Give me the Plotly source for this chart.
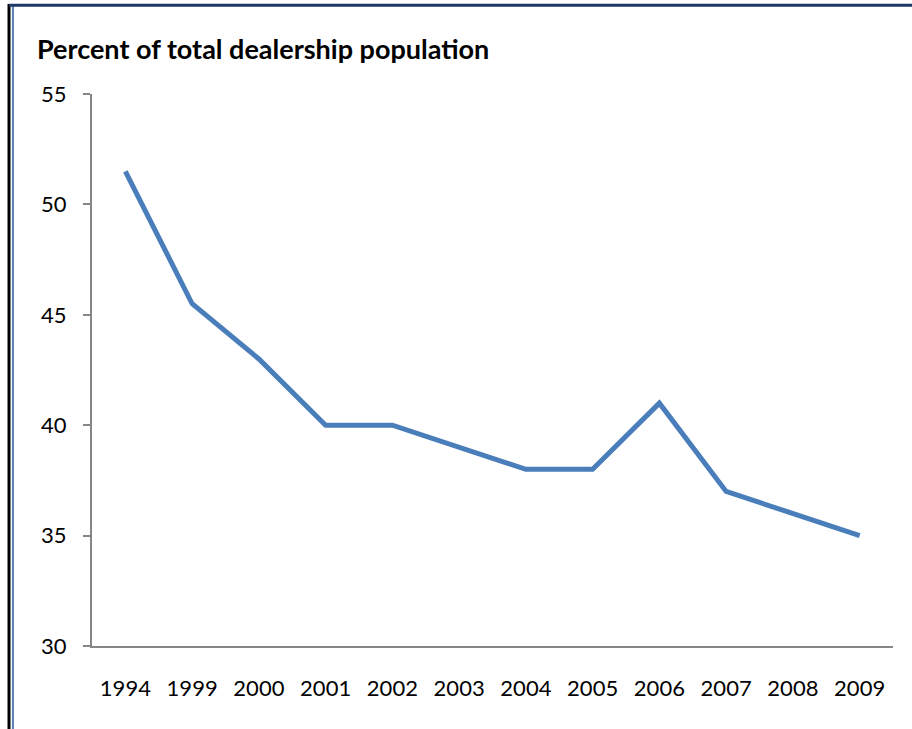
import plotly.graph_objects as go

years = ["1994", "1999", "2000", "2001", "2002", "2003", "2004", "2005", "2006", "2007", "2008", "2009"]
percent = [51.5, 45.5, 43, 40, 40, 39, 38, 38, 41, 37, 36, 35]
y_ticks = [30, 35, 40, 45, 50, 55]

fig = go.Figure()
fig.add_trace(go.Scatter(
    x=years, y=percent, mode="lines",
    line=dict(color="#4A7EBB", width=5),
    hoverinfo="skip",
))

font_family = "Lato, 'Open Sans', sans-serif"

fig.update_layout(
    width=912, height=729,
    margin=dict(l=92, r=19, t=94, b=83),
    paper_bgcolor="white", plot_bgcolor="white",
    showlegend=False,
    font=dict(family=font_family, size=22, color="black"),
    xaxis=dict(
        type="category", range=[-0.5, 11.5],
        showline=True, linecolor="#868686", linewidth=2,
        showgrid=False, zeroline=False,
        ticks="", tickfont=dict(size=22),
        ticklabelstandoff=22,
    ),
    yaxis=dict(
        range=[30, 55], tickvals=y_ticks,
        showline=True, linecolor="#868686", linewidth=2,
        showgrid=False, zeroline=False,
        ticks="outside", ticklen=7, tickcolor="#868686", tickwidth=2,
        tickfont=dict(size=22), ticklabelstandoff=12,
    ),
    annotations=[dict(
        text="<b>Percent of total dealership population</b>",
        xref="paper", yref="paper", x=-0.0712, y=1.083,
        xanchor="left", yanchor="middle", showarrow=False,
        font=dict(size=27, family=font_family),
    )],
    shapes=[
        dict(type="line", xref="paper", yref="paper",
             x0=-0.1036, x1=-0.1036, y0=-0.2, y1=1.163,
             line=dict(color="black", width=3)),
        dict(type="line", xref="paper", yref="paper",
             x0=-0.0987, x1=-0.0987, y0=-0.2, y1=1.16,
             line=dict(color="#5A7FB0", width=2)),
        dict(type="line", xref="paper", yref="paper",
             x0=-0.1036, x1=1.03, y0=1.161, y1=1.161,
             line=dict(color="#1F3864", width=3)),
    ],
)

fig.write_html(
    "out.html",
    config={"displayModeBar": False, "staticPlot": True},
    post_script="document.body.style.margin='0';document.body.style.overflow='hidden';",
)
